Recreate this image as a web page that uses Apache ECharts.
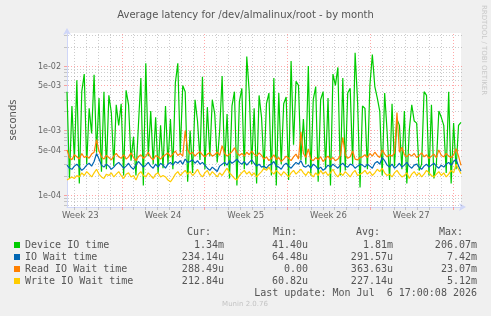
<!DOCTYPE html>
<html>
<head>
<meta charset="utf-8">
<script src="https://cdn.jsdelivr.net/npm/echarts@6/dist/echarts.min.js"></script>
<style>
  html, body { margin: 0; padding: 0; background: #f0f0f0; }
  #chart { width: 491px; height: 316px; }
</style>
</head>
<body>
<div id="chart"></div>
<script>
// hours since Mon Jun 1 2026 00:00, one sample every 5 h
var startHour = 57;
var stepHours = 5;
var xMin = 57, xMax = 857;
var yMin = 6.5e-5, yMax = 3.25e-2;

var deviceIO = [
  4.0e-3, 1.8e-4, 2.4e-3, 3.5e-4, 6.0e-3, 1.5e-4, 4.0e-3, 7.5e-3, 3.0e-4, 2.2e-3,
  9.0e-4, 7.3e-3, 4.5e-4, 3.2e-3, 2.3e-4, 4.0e-3, 2.5e-4, 3.5e-3, 1.9e-3, 2.8e-4,
  2.5e-3, 1.2e-3, 2.6e-3, 2.0e-4, 4.2e-3, 2.5e-3, 3.4e-4, 8.0e-4, 2.0e-4, 1.2e-3,
  6.5e-3, 1.4e-4, 1.1e-2, 4.0e-4, 2.0e-3, 3.0e-4, 1.6e-3, 2.2e-4, 1.2e-3, 2.6e-4,
  2.4e-3, 3.0e-4, 1.5e-3, 2.5e-4, 5.5e-3, 1.1e-2, 4.5e-4, 5.0e-3, 4.0e-3, 1.6e-4,
  1.0e-3, 2.2e-4, 3.0e-3, 1.4e-3, 3.5e-4, 6.8e-3, 2.5e-4, 2.3e-3, 4.0e-4, 3.0e-3,
  1.8e-3, 3.2e-4, 1.0e-3, 7.0e-3, 2.8e-4, 1.8e-3, 1.8e-4, 2.4e-3, 4.0e-3, 1.4e-4,
  2.8e-3, 4.5e-3, 2.5e-4, 1.4e-2, 4.0e-3, 3.0e-4, 2.2e-3, 1.5e-4, 3.5e-3, 1.6e-3,
  2.5e-4, 2.6e-3, 3.8e-3, 2.0e-4, 6.5e-3, 1.4e-4, 3.8e-3, 3.0e-4, 2.6e-3, 3.3e-3,
  1.7e-4, 1.2e-2, 6.0e-4, 5.8e-3, 5.0e-3, 3.5e-4, 1.5e-3, 3.0e-4, 1.0e-2, 2.0e-4,
  3.0e-3, 4.8e-3, 1.6e-4, 3.0e-3, 4.0e-3, 2.5e-4, 3.2e-3, 1.4e-4, 7.5e-3, 5.0e-3,
  9.5e-3, 2.0e-4, 6.5e-3, 2.4e-4, 3.8e-3, 4.5e-3, 3.0e-4, 1.6e-2, 2.8e-3, 1.3e-4,
  2.4e-3, 2.2e-3, 2.5e-4, 5.0e-3, 1.5e-2, 4.8e-3, 3.2e-3, 2.0e-3, 2.0e-4, 3.8e-3,
  9.5e-4, 1.7e-4, 2.6e-3, 2.8e-4, 1.5e-3, 1.2e-3, 2.5e-4, 2.0e-3, 1.5e-4, 1.0e-3,
  2.5e-3, 1.4e-3, 1.3e-3, 2.4e-4, 3.0e-4, 4.0e-3, 3.5e-3, 2.0e-4, 2.5e-3, 1.8e-4,
  3.0e-4, 2.0e-3, 1.6e-3, 1.2e-3, 2.2e-4, 4.0e-3, 1.5e-4, 1.3e-3, 2.5e-4, 1.2e-3,
  1.34e-3
];
var ioWait = [
  2.9e-4, 2.6e-4, 2.5e-4, 2.8e-4, 3.0e-4, 2.7e-4, 2.4e-4, 2.6e-4, 2.9e-4, 3.1e-4,
  2.8e-4, 3.3e-4, 4.4e-4, 3.6e-4, 2.9e-4, 2.7e-4, 3.0e-4, 2.8e-4, 2.5e-4, 2.7e-4,
  3.0e-4, 3.2e-4, 2.9e-4, 2.6e-4, 2.8e-4, 3.1e-4, 2.7e-4, 2.5e-4, 2.9e-4, 3.3e-4,
  3.0e-4, 2.7e-4, 2.9e-4, 3.2e-4, 2.8e-4, 2.6e-4, 3.0e-4, 2.7e-4, 3.1e-4, 2.9e-4,
  2.6e-4, 3.0e-4, 3.2e-4, 2.9e-4, 3.3e-4, 3.1e-4, 3.4e-4, 3.0e-4, 3.6e-4, 3.2e-4,
  3.3e-4, 3.5e-4, 3.1e-4, 3.4e-4, 3.0e-4, 3.2e-4, 2.9e-4, 2.6e-4, 2.4e-4, 2.7e-4,
  2.5e-4, 2.3e-4, 2.8e-4, 3.0e-4, 3.2e-4, 2.9e-4, 3.4e-4, 3.1e-4, 3.3e-4, 3.6e-4,
  3.2e-4, 3.0e-4, 3.3e-4, 2.9e-4, 3.2e-4, 3.5e-4, 3.1e-4, 2.8e-4, 3.0e-4, 2.7e-4,
  2.8e-4, 2.6e-4, 2.9e-4, 3.0e-4, 3.3e-4, 2.8e-4, 2.7e-4, 2.5e-4, 2.9e-4, 3.1e-4,
  2.8e-4, 2.6e-4, 2.9e-4, 3.2e-4, 3.0e-4, 3.4e-4, 2.8e-4, 2.7e-4, 2.9e-4, 2.6e-4,
  3.0e-4, 2.8e-4, 2.5e-4, 2.7e-4, 2.4e-4, 2.6e-4, 2.9e-4, 2.7e-4, 3.0e-4, 2.8e-4,
  2.6e-4, 2.9e-4, 3.1e-4, 2.8e-4, 2.7e-4, 3.0e-4, 2.9e-4, 2.6e-4, 2.8e-4, 3.0e-4,
  2.9e-4, 2.7e-4, 3.0e-4, 2.8e-4, 2.6e-4, 3.1e-4, 3.3e-4, 3.0e-4, 3.8e-4, 3.4e-4,
  2.9e-4, 2.7e-4, 3.0e-4, 2.6e-4, 2.8e-4, 3.1e-4, 2.7e-4, 2.9e-4, 3.2e-4, 2.8e-4,
  2.6e-4, 2.9e-4, 3.0e-4, 2.7e-4, 2.5e-4, 2.8e-4, 3.0e-4, 2.7e-4, 2.9e-4, 3.1e-4,
  2.8e-4, 2.6e-4, 2.9e-4, 2.7e-4, 3.0e-4, 3.2e-4, 2.9e-4, 3.3e-4, 3.6e-4, 2.8e-4,
  2.34e-4
];
var readWait = [
  5.0e-4, 3.8e-4, 3.5e-4, 4.2e-4, 3.9e-4, 3.6e-4, 4.4e-4, 3.8e-4, 4.0e-4, 3.7e-4,
  4.3e-4, 4.6e-4, 7.2e-4, 4.8e-4, 3.9e-4, 3.6e-4, 4.1e-4, 3.8e-4, 3.5e-4, 4.0e-4,
  4.4e-4, 3.9e-4, 3.7e-4, 4.2e-4, 3.6e-4, 3.9e-4, 4.5e-4, 3.8e-4, 3.4e-4, 3.9e-4,
  4.2e-4, 3.7e-4, 4.0e-4, 4.6e-4, 3.8e-4, 3.5e-4, 4.1e-4, 3.9e-4, 3.6e-4, 4.0e-4,
  4.2e-4, 4.5e-4, 3.9e-4, 4.3e-4, 4.8e-4, 4.1e-4, 4.4e-4, 4.0e-4, 1.0e-3, 5.0e-4,
  4.3e-4, 4.6e-4, 4.0e-4, 4.4e-4, 4.7e-4, 4.2e-4, 3.9e-4, 4.3e-4, 4.5e-4, 4.0e-4,
  4.2e-4, 4.6e-4, 4.1e-4, 5.8e-4, 4.4e-4, 4.0e-4, 4.3e-4, 4.7e-4, 5.4e-4, 4.5e-4,
  4.1e-4, 4.4e-4, 4.0e-4, 4.6e-4, 4.2e-4, 4.8e-4, 4.3e-4, 4.0e-4, 4.5e-4, 4.1e-4,
  3.6e-4, 3.9e-4, 3.4e-4, 3.7e-4, 4.2e-4, 3.5e-4, 3.8e-4, 3.3e-4, 3.6e-4, 4.0e-4,
  3.7e-4, 3.4e-4, 3.9e-4, 4.3e-4, 3.6e-4, 9.5e-4, 4.4e-4, 3.8e-4, 5.2e-4, 3.6e-4,
  3.4e-4, 3.8e-4, 3.5e-4, 3.9e-4, 3.3e-4, 3.7e-4, 4.0e-4, 3.5e-4, 3.8e-4, 3.4e-4,
  3.6e-4, 4.1e-4, 7.8e-4, 4.2e-4, 3.7e-4, 3.9e-4, 4.8e-4, 3.6e-4, 3.5e-4, 3.8e-4,
  3.9e-4, 4.2e-4, 3.8e-4, 4.4e-4, 4.0e-4, 4.6e-4, 4.1e-4, 3.8e-4, 5.0e-4, 4.3e-4,
  3.9e-4, 4.2e-4, 4.0e-4, 4.5e-4, 1.9e-3, 4.6e-4, 5.5e-4, 4.2e-4, 3.9e-4, 4.3e-4,
  4.0e-4, 4.4e-4, 3.8e-4, 4.1e-4, 4.5e-4, 3.9e-4, 4.2e-4, 3.7e-4, 4.0e-4, 4.3e-4,
  3.8e-4, 5.0e-4, 4.1e-4, 3.9e-4, 4.4e-4, 4.0e-4, 3.8e-4, 4.2e-4, 5.2e-4, 4.0e-4,
  2.88e-4
];
var writeWait = [
  1.7e-4, 1.8e-4, 1.9e-4, 1.8e-4, 2.0e-4, 1.9e-4, 2.2e-4, 2.0e-4, 2.3e-4, 2.1e-4,
  1.9e-4, 2.2e-4, 2.5e-4, 2.1e-4, 1.9e-4, 1.8e-4, 2.1e-4, 2.0e-4, 2.2e-4, 1.9e-4,
  2.1e-4, 2.3e-4, 2.0e-4, 1.8e-4, 2.1e-4, 2.2e-4, 1.9e-4, 2.0e-4, 1.7e-4, 2.1e-4,
  2.3e-4, 2.0e-4, 1.9e-4, 2.2e-4, 2.0e-4, 1.8e-4, 2.1e-4, 2.2e-4, 1.9e-4, 2.0e-4,
  1.9e-4, 1.7e-4, 1.6e-4, 1.8e-4, 2.1e-4, 2.3e-4, 2.0e-4, 2.2e-4, 2.4e-4, 2.1e-4,
  2.3e-4, 2.0e-4, 2.2e-4, 2.5e-4, 2.1e-4, 1.9e-4, 2.2e-4, 2.4e-4, 2.0e-4, 2.3e-4,
  2.1e-4, 1.9e-4, 2.2e-4, 2.0e-4, 2.3e-4, 2.6e-4, 2.2e-4, 2.0e-4, 1.8e-4, 1.7e-4,
  2.0e-4, 2.2e-4, 2.4e-4, 2.1e-4, 2.3e-4, 2.0e-4, 2.2e-4, 1.9e-4, 2.1e-4, 2.3e-4,
  2.6e-4, 2.4e-4, 2.7e-4, 2.3e-4, 2.1e-4, 2.4e-4, 2.2e-4, 2.0e-4, 2.3e-4, 2.1e-4,
  1.9e-4, 2.2e-4, 2.4e-4, 2.1e-4, 2.3e-4, 2.5e-4, 2.2e-4, 2.0e-4, 2.3e-4, 2.1e-4,
  1.9e-4, 2.2e-4, 2.0e-4, 2.4e-4, 2.1e-4, 2.3e-4, 2.0e-4, 2.2e-4, 2.5e-4, 2.1e-4,
  1.9e-4, 2.2e-4, 2.0e-4, 2.3e-4, 2.1e-4, 1.9e-4, 2.2e-4, 2.4e-4, 2.0e-4, 2.1e-4,
  2.2e-4, 2.4e-4, 2.1e-4, 2.3e-4, 2.0e-4, 2.2e-4, 2.5e-4, 2.3e-4, 2.6e-4, 2.2e-4,
  2.0e-4, 2.1e-4, 1.9e-4, 2.2e-4, 2.4e-4, 2.1e-4, 1.9e-4, 2.0e-4, 2.2e-4, 1.8e-4,
  2.1e-4, 2.3e-4, 2.0e-4, 2.2e-4, 1.9e-4, 2.1e-4, 2.4e-4, 2.2e-4, 2.0e-4, 1.9e-4,
  2.1e-4, 2.3e-4, 2.0e-4, 2.2e-4, 1.9e-4, 2.1e-4, 2.4e-4, 2.2e-4, 3.0e-4, 2.5e-4,
  2.13e-4
];

var seriesNames = ["Device IO time", "IO Wait time", "Read IO Wait time", "Write IO Wait time"];
var seriesColors = ["#00cc00", "#0066b3", "#ff8000", "#ffcc00"];
var curVals = ["1.34m", "234.14u", "288.49u", "212.84u"];
var minVals = ["41.40u", "64.48u", "0.00", "60.82u"];
var avgVals = ["1.81m", "291.57u", "363.63u", "227.14u"];
var maxVals = ["206.07m", "7.42m", "23.07m", "5.12m"];

// y grid (seconds)
var yMajorValues = [1e-4, 5e-4, 1e-3, 5e-3, 1e-2];
var yMajorLabels = ["1e-04", "5e-04", "1e-03", "5e-03", "1e-02"];
var yMinorValues = [7e-5, 8e-5, 9e-5, 2e-4, 3e-4, 4e-4, 6e-4, 7e-4, 8e-4, 9e-4,
  2e-3, 3e-3, 4e-3, 6e-3, 7e-3, 8e-3, 9e-3, 2e-2, 3e-2];

// x grid (hours since Mon Jun 1)
var weekStarts = [168, 336, 504, 672, 840];
var dayLines = [72, 96, 120, 144, 192, 216, 240, 264, 288, 312, 360, 384, 408, 432, 456, 480,
  528, 552, 576, 600, 624, 648, 696, 720, 744, 768, 792, 816];
var weekMids = [84, 252, 420, 588, 756];
var weekLabels = ["Week 23", "Week 24", "Week 25", "Week 26", "Week 27"];

var hours = [];
for (var i = 0; i < deviceIO.length; i++) hours.push(startHour + i * stepHours);

function pairs(vals) {
  return vals.map(function (v, i) { return [hours[i], v]; });
}

var grayCol = "rgba(143,143,143,0.45)";
var redCol = "rgba(255,96,96,0.55)";
var axisColor = "#cfd6f8";
var labelFont = '8px "DejaVu Sans"';

// grid specs: drawn with a custom series through the chart's own axes
var gridSpecs = [];
yMinorValues.forEach(function (v) { gridSpecs.push({ dir: "h", v: v, major: false }); });
dayLines.forEach(function (h) { gridSpecs.push({ dir: "v", v: h, major: false }); });
yMajorValues.forEach(function (v, k) { gridSpecs.push({ dir: "h", v: v, major: true, label: yMajorLabels[k] }); });
weekStarts.forEach(function (h) { gridSpecs.push({ dir: "v", v: h, major: true }); });
weekMids.forEach(function (h, k) { gridSpecs.push({ dir: "w", v: h, label: weekLabels[k] }); });

var gridData = gridSpecs.map(function (s) {
  return s.dir === "h" ? [xMin, s.v] : [s.v, yMin];
});

function renderGrid(params, api) {
  var s = gridSpecs[params.dataIndex];
  var color = s.major ? redCol : grayCol;
  var kids = [];
  if (s.dir === "h") {
    var a = api.coord([xMin, s.v]);
    var b = api.coord([xMax, s.v]);
    var y = Math.round(a[1]) + 0.5;
    kids.push({ type: "line", shape: { x1: a[0] + 1, y1: y, x2: b[0] + 1, y2: y },
      style: { stroke: color, lineWidth: 1, lineDash: [1, 2] } });
    kids.push({ type: "line", shape: { x1: a[0] - 3, y1: y, x2: a[0], y2: y },
      style: { stroke: color, lineWidth: 1 } });
    if (s.label) {
      kids.push({ type: "text", x: a[0] - 6, y: y,
        style: { text: s.label, font: labelFont, fill: "#666", align: "right", verticalAlign: "middle",
          textAlign: "right", textVerticalAlign: "middle" } });
    }
  } else if (s.dir === "v") {
    var p = api.coord([s.v, yMin]);
    var q = api.coord([s.v, yMax]);
    var x = Math.round(p[0]) + 0.5;
    kids.push({ type: "line", shape: { x1: x, y1: p[1] - 1, x2: x, y2: q[1] },
      style: { stroke: color, lineWidth: 1, lineDash: [1, 2] } });
    kids.push({ type: "line", shape: { x1: x, y1: p[1], x2: x, y2: p[1] + 3 },
      style: { stroke: color, lineWidth: 1 } });
  } else {
    var w = api.coord([s.v, yMin]);
    kids.push({ type: "text", x: w[0], y: w[1] + 9,
      style: { text: s.label, font: '8.5px "DejaVu Sans"', fill: "#666", align: "center", verticalAlign: "middle",
        textAlign: "center", textVerticalAlign: "middle" } });
  }
  return { type: "group", children: kids };
}

var graphics = [];
var colRight = [224, 308, 393, 477];
var headRight = [211, 297, 380, 463];
var heads = ["Cur:", "Min:", "Avg:", "Max:"];
var cols = [curVals, minVals, avgVals, maxVals];
var rowY = [245, 257, 269, 281];
var mono = '10px "DejaVu Sans Mono"';

function txt(s, x, y, align, font, fill) {
  return {
    type: "text", x: x, y: y, silent: true,
    style: { text: s, font: font, fill: fill, align: align, verticalAlign: "middle",
      textAlign: align, textVerticalAlign: "middle" }
  };
}
heads.forEach(function (h, c) { graphics.push(txt(h, headRight[c], 232, "right", mono, "#555")); });
cols.forEach(function (col, c) {
  col.forEach(function (s, r) { graphics.push(txt(s, colRight[c], rowY[r], "right", mono, "#555")); });
});
graphics.push(txt("Last update: Mon Jul  6 17:00:08 2026", 477, 293, "right", mono, "#555"));
graphics.push(txt("Munin 2.0.76", 245, 304, "center", '7px "DejaVu Sans"', "#c4c4c4"));
var rrd = txt("RRDTOOL / TOBI OETIKER", 484, 50, "center", '7px "DejaVu Sans"', "#c8c8c8");
rrd.rotation = -Math.PI / 2;
graphics.push(rrd);

var chart = echarts.init(document.getElementById("chart"));

var series = [{
  name: "grid",
  type: "custom",
  data: gridData,
  renderItem: renderGrid,
  silent: true,
  clip: false,
  z: 1,
  animation: false
}];
[deviceIO, ioWait, readWait, writeWait].forEach(function (vals, k) {
  series.push({
    name: seriesNames[k],
    type: "line",
    data: pairs(vals),
    symbol: "none",
    showSymbol: false,
    color: seriesColors[k],
    lineStyle: { width: 1.2, color: seriesColors[k] },
    z: 3,
    animation: false
  });
});

var option = {
  backgroundColor: "#f0f0f0",
  animation: false,
  title: {
    text: "Average latency for /dev/almalinux/root - by month",
    left: "center",
    top: 5,
    textStyle: { color: "#555", fontSize: 10, fontWeight: "normal", fontFamily: "DejaVu Sans" }
  },
  grid: {
    left: 60, right: 30, top: 33, bottom: 109,
    show: true, backgroundColor: "#ffffff", borderWidth: 0
  },
  legend: {
    orient: "vertical",
    left: 14,
    top: 239,
    padding: 0,
    itemWidth: 6,
    itemHeight: 6,
    itemGap: 0,
    icon: "rect",
    selectedMode: false,
    textStyle: { fontFamily: "DejaVu Sans Mono", fontSize: 10, color: "#555", lineHeight: 12 },
    data: seriesNames
  },
  xAxis: {
    type: "value",
    min: xMin,
    max: xMax,
    axisLine: { lineStyle: { color: axisColor }, symbol: ["none", "arrow"], symbolSize: [6, 7], symbolOffset: [0, 5] },
    axisTick: { show: false },
    axisLabel: { show: false },
    splitLine: { show: false }
  },
  yAxis: {
    type: "log",
    logBase: 10,
    min: yMin,
    max: yMax,
    name: "seconds",
    nameLocation: "middle",
    nameGap: 49,
    nameTextStyle: { color: "#555", fontSize: 10, fontFamily: "DejaVu Sans" },
    axisLine: { lineStyle: { color: axisColor }, symbol: ["none", "arrow"], symbolSize: [6, 7], symbolOffset: [0, 5] },
    axisTick: { show: false },
    axisLabel: { show: false },
    splitLine: { show: false }
  },
  graphic: graphics,
  series: series
};

chart.setOption(option);
</script>
</body>
</html>
